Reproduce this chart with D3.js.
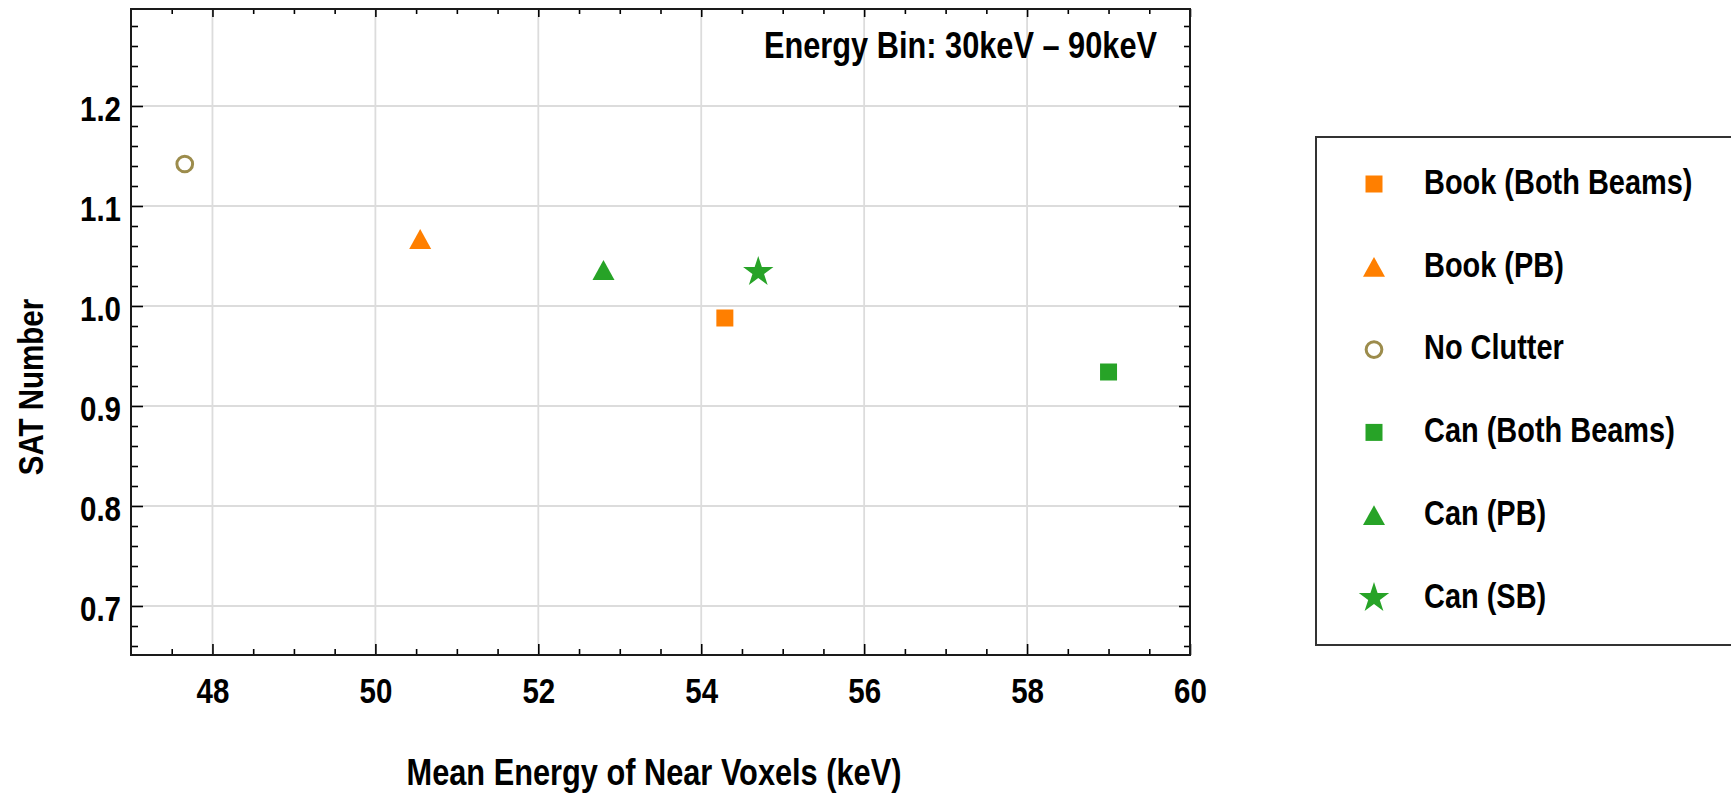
<!DOCTYPE html>
<html>
<head>
<meta charset="utf-8">
<script src="https://cdn.jsdelivr.net/npm/d3@7"></script>
<style>
  body { margin: 0; background: #fff; }
  svg text { font-weight: bold; fill: #000; }
</style>
</head>
<body>
<svg id="chart" width="1731" height="795"></svg>
<script>
// values
var seriesNames = ["Book (Both Beams)", "Book (PB)", "No Clutter", "Can (Both Beams)", "Can (PB)", "Can (SB)"];
var meanEnergy = [54.29, 50.55, 47.66, 59.00, 52.80, 54.70];
var satNumber = [0.988, 1.067, 1.142, 0.934, 1.036, 1.034];
var seriesColors = ["#ff7f00", "#ff7f00", "#9c8c4c", "#27a327", "#27a327", "#27a327"];
var seriesShapes = ["square", "triangle", "circle", "square", "triangle", "star"];
var xTicks = [48, 50, 52, 54, 56, 58, 60];
var yTicks = [0.7, 0.8, 0.9, 1.0, 1.1, 1.2];
var xTitle = "Mean Energy of Near Voxels (keV)";
var yTitle = "SAT Number";
var note = "Energy Bin: 30keV \u2013 90keV";

// is the narrow face there? if not we squeeze Liberation Sans by hand
function hasNarrow() {
    var c = document.createElement("canvas").getContext("2d");
    c.font = "bold 36px monospace";
    var w0 = c.measureText("Book (Both Beams)").width;
    c.font = 'bold 36px "Liberation Sans Narrow", monospace';
    var w1 = c.measureText("Book (Both Beams)").width;
    return Math.abs(w0 - w1) > 0.5;
}
var narrow = hasNarrow();
var fontFam = narrow ? '"Liberation Sans Narrow", "Arial Narrow", sans-serif' : '"Liberation Sans", Arial, sans-serif';
var fs = 36, fsTitle = 37.5, fsLegend = 35.3;

var pLeft = 131, pRight = 1190, pTop = 9, pBottom = 655;
var xs = d3.scaleLinear().domain([47, 60]).range([pLeft, pRight]);
var ys = d3.scaleLinear().domain([0.651, 1.297]).range([pBottom, pTop]);

// triangle centred on its bounding box (like the original markers)
var boxTriangle = {
    draw: function(ctx, size) {
        var w = Math.sqrt(size), h = w * 0.9;
        ctx.moveTo(0, -h / 2);
        ctx.lineTo(w / 2, h / 2);
        ctx.lineTo(-w / 2, h / 2);
        ctx.closePath();
    }
};
function symbolFor(shape) {
    if (shape == "square") return d3.symbol(d3.symbolSquare, 289)();
    if (shape == "triangle") return d3.symbol(boxTriangle, 484)();
    if (shape == "circle") return d3.symbol(d3.symbolCircle, 194)();
    return d3.symbol(d3.symbolStar, 287)();
}

var svg = d3.select("#chart");
svg.style("font-family", fontFam);

// grid
svg.append("g").selectAll("line").data(xTicks.filter(function(d) { return d < 60; }))
    .enter().append("line")
    .attr("x1", function(d) { return xs(d); }).attr("x2", function(d) { return xs(d); })
    .attr("y1", pTop).attr("y2", pBottom)
    .attr("stroke", "#dcdcdc").attr("stroke-width", 1.8);
svg.append("g").selectAll("line").data(yTicks)
    .enter().append("line")
    .attr("y1", function(d) { return ys(d); }).attr("y2", function(d) { return ys(d); })
    .attr("x1", pLeft).attr("x2", pRight)
    .attr("stroke", "#dcdcdc").attr("stroke-width", 1.8);

var xMinor = d3.range(47.5, 60, 0.5).filter(function(d) { return xTicks.indexOf(d) < 0; });
var yMinor = d3.range(66, 130, 2).filter(function(d) { return d % 10 != 0; })
    .map(function(d) { return d / 100; });

function styleAxis(g) {
    g.select(".domain").remove();
    g.selectAll("line").attr("stroke", "#000").attr("stroke-width", 1.6);
    g.attr("font-family", null).attr("font-size", fs);
}

// bottom
svg.append("g").attr("transform", "translate(0," + pBottom + ")")
    .call(d3.axisBottom(xs).tickValues(xTicks).tickSizeInner(-11).tickSizeOuter(0).tickPadding(22).tickFormat(d3.format("d")))
    .call(styleAxis);
svg.append("g").attr("transform", "translate(0," + pBottom + ")")
    .call(d3.axisBottom(xs).tickValues(xMinor).tickSizeInner(-6).tickSizeOuter(0).tickFormat(""))
    .call(styleAxis);
// top
svg.append("g").attr("transform", "translate(0," + pTop + ")")
    .call(d3.axisTop(xs).tickValues(xTicks).tickSizeInner(-8).tickSizeOuter(0).tickFormat(""))
    .call(styleAxis);
svg.append("g").attr("transform", "translate(0," + pTop + ")")
    .call(d3.axisTop(xs).tickValues(xMinor).tickSizeInner(-5).tickSizeOuter(0).tickFormat(""))
    .call(styleAxis);
// left
svg.append("g").attr("transform", "translate(" + pLeft + ",0)")
    .call(d3.axisLeft(ys).tickValues(yTicks).tickSizeInner(-12).tickSizeOuter(0).tickPadding(10).tickFormat(d3.format(".1f")))
    .call(styleAxis)
    .selectAll("text").attr("dy", "0.4em");
svg.append("g").attr("transform", "translate(" + pLeft + ",0)")
    .call(d3.axisLeft(ys).tickValues(yMinor).tickSizeInner(-7).tickSizeOuter(0).tickFormat(""))
    .call(styleAxis);
// right
svg.append("g").attr("transform", "translate(" + pRight + ",0)")
    .call(d3.axisRight(ys).tickValues(yTicks).tickSizeInner(-11).tickSizeOuter(0).tickFormat(""))
    .call(styleAxis);
svg.append("g").attr("transform", "translate(" + pRight + ",0)")
    .call(d3.axisRight(ys).tickValues(yMinor).tickSizeInner(-6).tickSizeOuter(0).tickFormat(""))
    .call(styleAxis);

// frame
svg.append("rect").attr("x", pLeft).attr("y", pTop)
    .attr("width", pRight - pLeft).attr("height", pBottom - pTop)
    .attr("fill", "none").attr("stroke", "#1a1a1a").attr("stroke-width", 2);

// points
svg.append("g").selectAll("path").data(seriesNames)
    .enter().append("path")
    .attr("d", function(d, i) { return symbolFor(seriesShapes[i]); })
    .attr("transform", function(d, i) { return "translate(" + xs(meanEnergy[i]) + "," + ys(satNumber[i]) + ")"; })
    .attr("fill", function(d, i) { return seriesShapes[i] == "circle" ? "none" : seriesColors[i]; })
    .attr("stroke", function(d, i) { return seriesShapes[i] == "circle" ? seriesColors[i] : "none"; })
    .attr("stroke-width", 3);

// labels
svg.append("text").attr("x", 1157).attr("y", 58).attr("text-anchor", "end")
    .attr("font-size", fsTitle).text(note);
svg.append("text").attr("x", 654).attr("y", 785).attr("text-anchor", "middle")
    .attr("font-size", fsTitle).text(xTitle);
svg.append("text").attr("transform", "translate(43,387) rotate(-90)").attr("text-anchor", "middle")
    .attr("font-size", fs).text(yTitle);

// legend
var leg = svg.append("g");
leg.append("rect").attr("x", 1316).attr("y", 137).attr("width", 520).attr("height", 508)
    .attr("fill", "#fff").attr("stroke", "#333").attr("stroke-width", 2);
var rows = d3.scalePoint().domain(seriesNames).range([181, 595]);
var item = leg.selectAll("g.item").data(seriesNames).enter().append("g")
    .attr("class", "item")
    .attr("transform", function(d) { return "translate(0," + rows(d) + ")"; });
item.append("path")
    .attr("d", function(d, i) { return symbolFor(seriesShapes[i]); })
    .attr("transform", "translate(1374,3)")
    .attr("fill", function(d, i) { return seriesShapes[i] == "circle" ? "none" : seriesColors[i]; })
    .attr("stroke", function(d, i) { return seriesShapes[i] == "circle" ? seriesColors[i] : "none"; })
    .attr("stroke-width", 3);
item.append("text").attr("x", 1424).attr("dy", "0.36em")
    .attr("font-size", fsLegend).text(function(d) { return d; });

// squeeze text if the narrow face is missing
if (!narrow) {
    svg.selectAll("text").each(function() {
        var t = this.getAttribute("transform") || "";
        var x0 = +(this.getAttribute("x") || 0);
        this.setAttribute("transform", t + " translate(" + (x0 * 0.18) + ",0) scale(0.82,1)");
    });
}
</script>
</body>
</html>
